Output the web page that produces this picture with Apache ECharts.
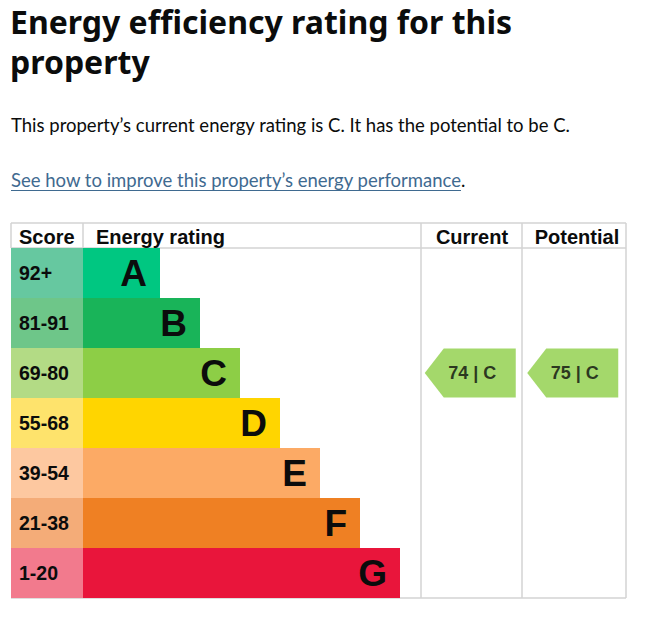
<!DOCTYPE html>
<html>
<head>
<meta charset="utf-8">
<title>Energy efficiency rating</title>
<script src="https://cdn.jsdelivr.net/npm/echarts@6/dist/echarts.min.js"></script>
<style>
    body { margin: 0; background: #fff; width: 652px; height: 618px; overflow: hidden; color: #0b0c0c; }
    .txt { position: absolute; left: 11px; margin: 0; white-space: nowrap; font-family: Lato, "Noto Sans", sans-serif; }
    #heading { top: 2px; left: 10px; font-family: "Noto Sans", sans-serif; font-size: 32px; line-height: 40px; font-weight: 700; }
    #summary { top: 113px; font-size: 18.5px; line-height: 24px; }
    #link { top: 168px; font-size: 18.5px; line-height: 24px; }
    #link a { color: #3f6a90; text-decoration: underline; text-underline-offset: 3px; }
    #chart { position: absolute; left: 0; top: 215px; width: 652px; height: 403px; }
</style>
</head>
<body>
<h1 class="txt" id="heading">Energy efficiency rating for this<br>property</h1>
<p class="txt" id="summary">This property’s current energy rating is C. It has the potential to be C.</p>
<p class="txt" id="link"><a href="#">See how to improve this property’s energy performance</a>.</p>
<div id="chart"></div>
<script>
// rating bands, top to bottom
var bands = ['A', 'B', 'C', 'D', 'E', 'F', 'G'];
var scoreRanges = ['92+', '81-91', '69-80', '55-68', '39-54', '21-38', '1-20'];
// bar length in steps (each band one step longer)
var barLength = [2, 3, 4, 5, 6, 7, 8];
var bandColors = ['#00c781', '#19b459', '#8dce46', '#ffd500', '#fcaa65', '#ef8023', '#e9153b'];
var scoreColors = ['#66c8a0', '#6ec689', '#b3db85', '#fee36c', '#fdc8a0', '#f4ac78', '#f27a8d'];
var headers = ['Score', 'Energy rating', 'Current', 'Potential'];
var columns = ['Current', 'Potential'];
var ratings = [
    {column: 'Current', score: 74, band: 'C'},
    {column: 'Potential', score: 75, band: 'C'}
];

var lineColor = '#d3d3d3';
var textColor = '#0b0c0c';
var font = '"Liberation Sans", Arial, sans-serif';

// table frame (chart coords)
var T = {left: 11, top: 8, head: 33, bottom: 383, score: 83, bars: 421, mid: 522, right: 626};

function hline(y) {
    return {type: 'line', z: -1, shape: {x1: T.left, y1: y, x2: T.right, y2: y}, style: {stroke: lineColor, lineWidth: 1.5}};
}
function vline(x, y2) {
    return {type: 'line', z: -1, shape: {x1: x, y1: T.top, x2: x, y2: y2}, style: {stroke: lineColor, lineWidth: 1.5}};
}
function head(text, x, align) {
    return {type: 'text', x: x, y: (T.top + T.head) / 2 + 1,
        style: {text: text, fill: textColor, font: 'bold 20px ' + font, textAlign: align, textVerticalAlign: 'middle'}};
}

var myChart = echarts.init(document.getElementById('chart'), null, {renderer: 'svg'});

var option = {
    backgroundColor: '#fff',
    animation: false,
    graphic: [
        hline(T.top), hline(T.head), hline(T.bottom),
        vline(T.left, T.head), vline(T.score, T.head),
        vline(T.bars, T.bottom), vline(T.mid, T.bottom), vline(T.right, T.bottom),
        head(headers[0], 19, 'left'),
        head(headers[1], 96, 'left'),
        head(headers[2], 472, 'center'),
        head(headers[3], 577, 'center')
    ],
    grid: [
        {left: T.left, top: T.head, width: T.score - T.left, height: T.bottom - T.head},
        // bars start under the score column, 40px per step
        {left: 80, top: T.head, width: 340, height: T.bottom - T.head},
        {left: T.bars, top: T.head, width: T.right - T.bars, height: T.bottom - T.head}
    ],
    xAxis: [
        {gridIndex: 0, type: 'value', min: 0, max: 1, show: false},
        {gridIndex: 1, type: 'value', min: 0, max: 8.5, show: false},
        {gridIndex: 2, type: 'category', data: columns, show: false}
    ],
    yAxis: [0, 1, 2].map(function (i) {
        return {gridIndex: i, type: 'category', data: bands, inverse: true, show: false};
    }),
    series: [
        {
            type: 'bar',
            xAxisIndex: 1,
            yAxisIndex: 1,
            barCategoryGap: 0,
            z: 2,
            data: barLength.map(function (v, i) {
                return {value: v, itemStyle: {color: bandColors[i]}};
            }),
            label: {
                show: true,
                position: 'insideRight',
                distance: 13,
                formatter: function (p) { return bands[p.dataIndex]; },
                color: textColor,
                fontFamily: font,
                fontWeight: 'bold',
                fontSize: 37
            }
        },
        {
            type: 'bar',
            xAxisIndex: 0,
            yAxisIndex: 0,
            barCategoryGap: 0,
            z: 3,
            data: bands.map(function (b, i) {
                return {value: 1, itemStyle: {color: scoreColors[i]}};
            }),
            label: {
                show: true,
                position: 'insideLeft',
                distance: 8,
                formatter: function (p) { return scoreRanges[p.dataIndex]; },
                color: textColor,
                fontFamily: font,
                fontWeight: 'bold',
                fontSize: 19.5
            }
        },
        {
            type: 'scatter',
            xAxisIndex: 2,
            yAxisIndex: 2,
            symbol: 'path://M0,24.5 L19,0 L91,0 L91,49 L19,49 Z',
            symbolSize: [91, 49],
            symbolOffset: [-2, 0],
            data: ratings.map(function (r) {
                return {
                    value: [r.column, r.band],
                    score: r.score,
                    itemStyle: {color: bandColors[bands.indexOf(r.band)]}
                };
            }),
            label: {
                show: true,
                position: 'inside',
                offset: [2, 0],
                formatter: function (p) { return p.data.score + ' | ' + p.data.value[1]; },
                color: textColor,
                fontFamily: font,
                fontWeight: 'bold',
                fontSize: 18
            }
        }
    ]
};
myChart.setOption(option);
</script>
</body>
</html>
